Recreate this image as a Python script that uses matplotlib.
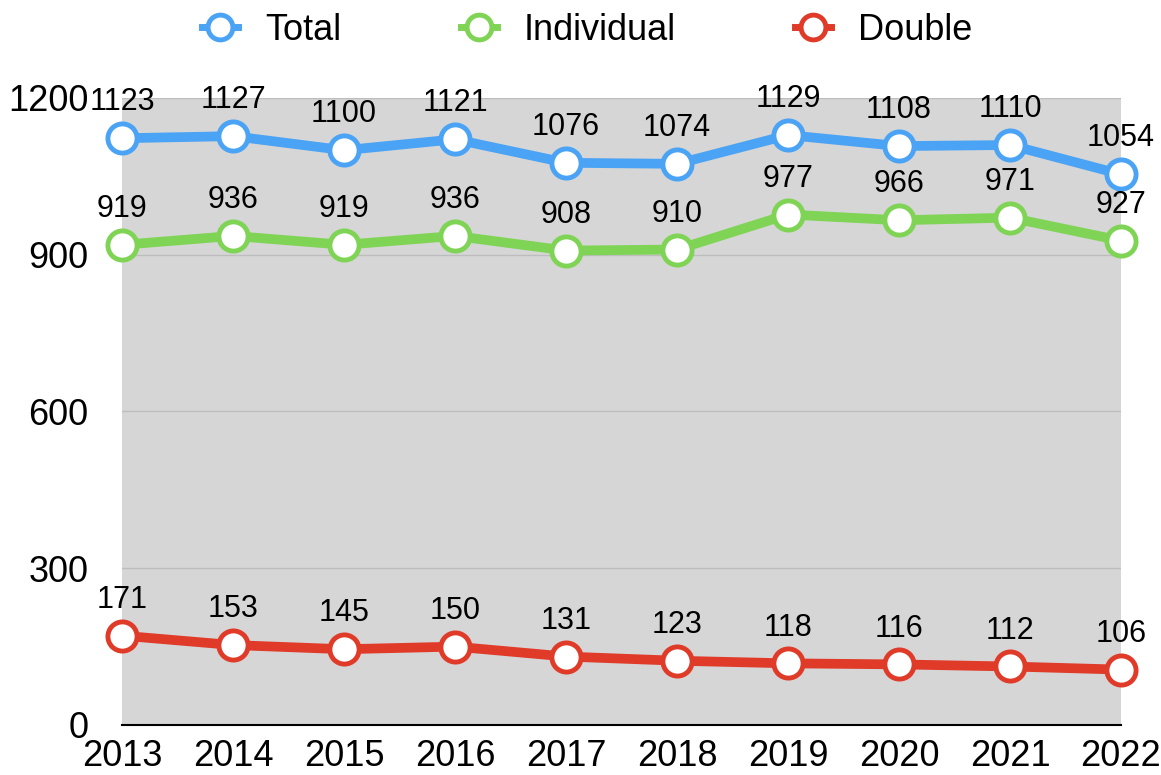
import matplotlib.pyplot as plt
import matplotlib.ticker as ticker

plt.rcParams['font.family'] = ['Liberation Sans', 'DejaVu Sans']

years = [2013, 2014, 2015, 2016, 2017, 2018, 2019, 2020, 2021, 2022]
total = [1123, 1127, 1100, 1121, 1076, 1074, 1129, 1108, 1110, 1054]
individual = [919, 936, 919, 936, 908, 910, 977, 966, 971, 927]
double = [171, 153, 145, 150, 131, 123, 118, 116, 112, 106]

series = [
    ('Total', total, '#4aa3f4'),
    ('Individual', individual, '#7fd455'),
    ('Double', double, '#e03b29'),
]

fig = plt.figure(figsize=(11.61, 7.75), dpi=100)
ax = fig.add_axes([122 / 1161, 50 / 775, 999 / 1161, 627 / 775])
ax.set_facecolor('#d6d6d6')

for name, vals, col in series:
    ax.plot(years, vals, color=col, linewidth=7, marker='o', markersize=21,
            markerfacecolor='white', markeredgecolor=col, markeredgewidth=3.5,
            label=name, clip_on=False, zorder=3)
    for x, y in zip(years, vals):
        ax.annotate(str(y), (x, y), xytext=(0, 15), textcoords='offset points',
                    ha='center', va='bottom', fontsize=22, zorder=4)

ax.set_xlim(2013, 2022)
ax.set_ylim(0, 1200)
ax.set_xticks(years)
ax.yaxis.set_major_locator(ticker.MultipleLocator(300))
ax.grid(True, axis='y', color='#bdbdbd', linewidth=1)
ax.set_axisbelow(True)
for s in ['top', 'right', 'left']:
    ax.spines[s].set_visible(False)
ax.spines['bottom'].set_color('black')
ax.spines['bottom'].set_linewidth(1.5)
ax.tick_params(axis='both', length=0, labelsize=26)
ax.tick_params(axis='x', pad=10)
ax.tick_params(axis='y', pad=24)

leg = fig.legend(loc='upper center', bbox_to_anchor=(0.506, 1.025), ncol=3,
                 frameon=False, fontsize=26, handlelength=1.0,
                 handletextpad=0.75, columnspacing=3.3, markerscale=0.85)
for h in leg.legend_handles:
    h.set_linewidth(5)

plt.savefig('out.png', dpi=100)
